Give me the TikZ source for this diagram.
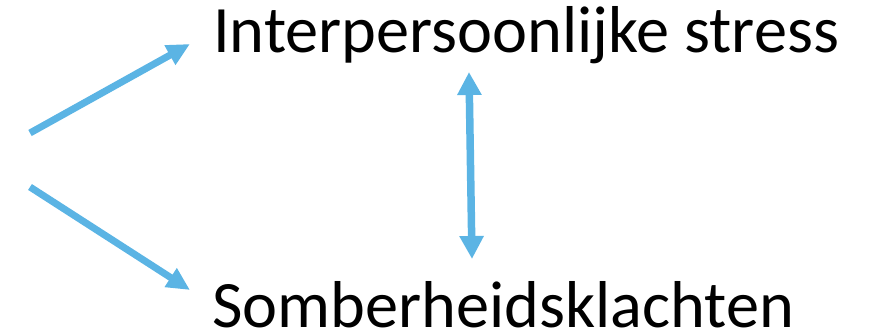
\documentclass[tikz,border=0pt]{standalone}
\usepackage{fontspec}
\setmainfont{Carlito}
\usetikzlibrary{arrows.meta}
\definecolor{arrowblue}{RGB}{91,180,228}
\begin{document}
\begin{tikzpicture}[x=1pt,y=1pt,
  conn/.style={draw=arrowblue, line width=7pt, -{Triangle[length=23pt,width=21pt]}},
  dconn/.style={draw=arrowblue, line width=7.5pt, {Triangle[length=23pt,width=23pt]}-{Triangle[length=23pt,width=23pt]}},
  lbl/.style={inner sep=0pt, anchor=base west, font=\fontsize{66.3}{70}\selectfont}]
\useasboundingbox (0,0) rectangle (871,331);
\node[lbl] (t) at (213,278) {Interpersoonlijke stress};
\node[lbl] (b) at (212,3) {Somberheidsklachten};
\coordinate (s1) at (30,198);
\coordinate (e1) at (190,287);
\coordinate (s2) at (30,144);
\coordinate (e2) at (190,41);
\coordinate (v1) at (469,259);
\coordinate (v2) at (472,72);
\draw[conn] (s1) -- (e1);
\draw[conn] (s2) -- (e2);
\draw[dconn] (v1) -- (v2);
\end{tikzpicture}
\end{document}
